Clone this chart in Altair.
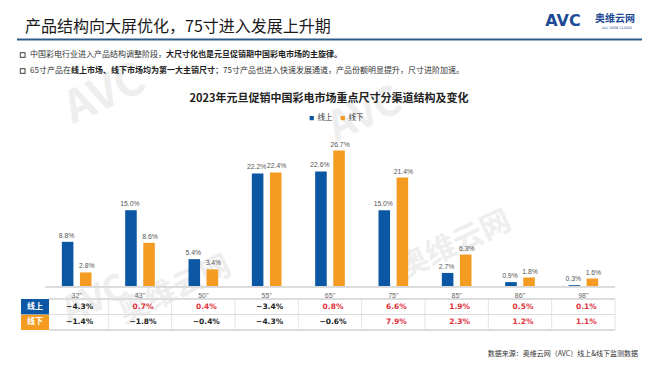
import altair as alt
import pandas as pd

# ---------------- data ----------------
sizes = ['32"', '43"', '50"', '55"', '65"', '75"', '85"', '86"', '98"']
channels = ["线上", "线下"]
online_share = [8.8, 15.0, 5.4, 22.2, 22.6, 15.0, 2.7, 0.9, 0.3]
offline_share = [2.8, 8.6, 3.4, 22.4, 26.7, 21.4, 6.3, 1.8, 1.6]
online_change = [-4.3, 0.7, 0.4, -3.4, 0.8, 6.6, 1.9, 0.5, 0.1]
offline_change = [-1.4, -1.8, -0.4, -4.3, -0.6, 7.9, 2.3, 1.2, 1.1]

page_title = "产品结构向大屏优化，75寸进入发展上升期"
bullet1 = ["中国彩电行业进入产品结构调整阶段，", "大尺寸化也是元旦促销期中国彩电市场的主旋律。"]
bullet2 = ["65寸产品在", "线上市场、线下市场均为第一大主销尺寸", "；75寸产品也进入快速发展通道，产品份额明显提升，尺寸进阶加速。"]
chart_title = "2023年元旦促销中国彩电市场重点尺寸分渠道结构及变化"
source_note = "数据来源：奥维云网（AVC）线上&线下监测数据"
logo_main = "AVC"
logo_cn = "奥维云网"
logo_en = "ALL VIEW CLOUD"
watermarks = ["AVC", "奥维云网", "AVC", "奥维云网", "AVC"]

BLUE = "#0b57a4"
ORANGE = "#f49b22"
RED = "#e0303a"
FONT = "Noto Sans CJK SC"
NUM_FONT = "Liberation Sans"

# ---------------- tables ----------------
bars = pd.DataFrame(
    {
        "size": sizes * 2,
        "channel": [channels[0]] * len(sizes) + [channels[1]] * len(sizes),
        "value": online_share + offline_share,
    }
)
chg_on = pd.DataFrame({"size": sizes, "chg": online_change})
chg_off = pd.DataFrame({"size": sizes, "chg": offline_change})
sizes_df = pd.DataFrame({"size": sizes})

x_scale = alt.Scale(domain=sizes, paddingInner=0, paddingOuter=0)
X = alt.X("size:N", sort=sizes, scale=x_scale, axis=None)
XOFF = alt.XOffset(
    "channel:N", sort=channels,
    scale=alt.Scale(domain=channels, paddingInner=0.36, paddingOuter=0.93),
)
Y = alt.Y("value:Q", scale=alt.Scale(domain=[0, 30], range=[278.7, 125.7]), axis=None)


def text_layer(txt, x, y, size, **kw):
    return alt.Chart(pd.DataFrame({"t": [txt]})).mark_text(
        fontSize=size, font=kw.pop("font", FONT), **kw
    ).encode(x=alt.value(x), y=alt.value(y), text="t:N")


# watermarks (faint)
wm_pos = [(105, 95, 44), (175, 290, 30), (365, 115, 40), (455, 245, 30), (95, 300, 36)]
wm_layers = []
for (px, py, fs), w in zip(wm_pos, watermarks):
    wm_layers.append(
        text_layer(w, px - 45, py - 8, fs, fontWeight="bold", color="#eeeeee",
                   angle=335, align="center", baseline="middle")
    )

# bars
bar_layer = alt.Chart(bars).mark_bar().encode(
    x=X,
    xOffset=XOFF,
    y=Y,
    color=alt.Color(
        "channel:N",
        scale=alt.Scale(domain=channels, range=[BLUE, ORANGE]),
        legend=alt.Legend(
            title=None, orient="none", legendX=263, legendY=106,
            direction="horizontal", symbolType="square", symbolSize=18,
            symbolStrokeWidth=0, labelFontSize=7.5, labelFont=FONT,
            labelColor="#333333", labelOffset=2, columnPadding=6, padding=0,
        ),
    ),
)


def bar_label_layer(ch, dx):
    return alt.Chart(bars).transform_filter(
        alt.datum.channel == ch
    ).transform_calculate(
        lab="format(datum.value, '.1f') + '%'"
    ).mark_text(
        fontSize=6.8, font=NUM_FONT, color="#555555", baseline="bottom", dy=-3, dx=dx
    ).encode(x=X, xOffset=XOFF, y=Y, text="lab:N")


lab_on = bar_label_layer(channels[0], -1)
lab_off = bar_label_layer(channels[1], 1)

baseline = alt.Chart(sizes_df).mark_rule(color="#d9d9d9", strokeWidth=1).encode(
    x=alt.value(0), x2=alt.value(570), y=alt.value(278.7)
)

x_labels = alt.Chart(sizes_df).mark_text(
    fontSize=7, font=NUM_FONT, color="#666666", baseline="middle"
).encode(x=X, y=alt.value(287.5), text="size:N")

# table grid
grid_h = []
for yy in [291, 306.5, 322]:
    grid_h.append(
        alt.Chart(sizes_df).mark_rule(color="#dcdcdc", strokeWidth=0.8).encode(
            x=alt.value(4), x2=alt.value(570), y=alt.value(yy)
        )
    )
grid_v = alt.Chart(sizes_df).mark_rule(color="#dcdcdc", strokeWidth=0.8).encode(
    x=alt.X("size:N", sort=sizes, scale=x_scale, axis=None, bandPosition=0),
    y=alt.value(291), y2=alt.value(322),
)
grid_v_end = alt.Chart(sizes_df).transform_filter(
    alt.datum.size == sizes[-1]
).mark_rule(color="#dcdcdc", strokeWidth=0.8).encode(
    x=alt.X("size:N", sort=sizes, scale=x_scale, axis=None, bandPosition=1),
    y=alt.value(291), y2=alt.value(322),
)

hdr_on = alt.Chart(sizes_df.head(1)).mark_rect(color=BLUE).encode(
    x=alt.value(-24), x2=alt.value(4), y=alt.value(291), y2=alt.value(306.5)
)
hdr_off = alt.Chart(sizes_df.head(1)).mark_rect(color=ORANGE).encode(
    x=alt.value(-24), x2=alt.value(4), y=alt.value(306.8), y2=alt.value(322)
)
hdr_on_t = text_layer(channels[0], -10, 298.8, 8, color="white", fontWeight="bold",
                      align="center", baseline="middle")
hdr_off_t = text_layer(channels[1], -10, 314.4, 8, color="white", fontWeight="bold",
                       align="center", baseline="middle")


def change_row(df, yy):
    return alt.Chart(df).transform_calculate(
        lab="format(datum.chg, '.1f') + '%'"
    ).mark_text(fontSize=7.5, font="DejaVu Sans", fontWeight="bold", dx=3,
                baseline="middle").encode(
        x=X,
        y=alt.value(yy),
        text="lab:N",
        color=alt.condition(alt.datum.chg > 0, alt.value(RED), alt.value("#222222")),
    )


row_on = change_row(chg_on, 298.8)
row_off = change_row(chg_off, 314.4)

# header texts
t_title = text_layer(page_title, -20, 18.5, 16, color="#1a1a1a", align="left", baseline="middle")
t_logo = text_layer(logo_main, 518, 12.5, 16, font="DejaVu Sans", fontWeight="bold",
                    color="#1d4a95", align="center", baseline="middle")
t_logo_cn = text_layer(logo_cn, 570, 11, 10, fontWeight="bold", color="#1d4a95",
                       align="center", baseline="middle")
t_logo_en = text_layer(logo_en, 572, 20, 3.5, font="DejaVu Sans", color="#1d4a95",
                       align="center", baseline="middle")
top_line = alt.Chart(sizes_df.head(1)).mark_rule(color="#2e5c8a", strokeWidth=2).encode(
    x=alt.value(-28), x2=alt.value(597), y=alt.value(31.5)
)

bullet_layers = []
for yy in [47, 63]:
    bullet_layers.append(
        alt.Chart(sizes_df.head(1)).mark_square(
            filled=False, color="#222222", strokeWidth=1.2, size=22
        ).encode(x=alt.value(-22.3), y=alt.value(yy))
    )
# line 1: normal + bold (CJK glyphs are 1em wide)
b1_split = -15 + 8 * len(bullet1[0])
bullet_layers.append(text_layer(bullet1[0], b1_split, 47, 8, color="#333333",
                                align="right", baseline="middle"))
bullet_layers.append(text_layer(bullet1[1], b1_split, 47, 8, color="#222222",
                                fontWeight="bold", align="left", baseline="middle"))
# line 2: normal + bold + normal
b2_split = -15 + 9 + 8 * 4
b2_split2 = b2_split + 8 * len(bullet2[1])
bullet_layers.append(text_layer(bullet2[0], b2_split, 63, 8, color="#333333",
                                align="right", baseline="middle"))
bullet_layers.append(text_layer(bullet2[1], b2_split, 63, 8, color="#222222",
                                fontWeight="bold", align="left", baseline="middle"))
bullet_layers.append(text_layer(bullet2[2], b2_split2, 63, 8, color="#333333",
                                align="left", baseline="middle"))

t_chart_title = text_layer(chart_title, 284, 91, 11, fontWeight="bold", color="#222222",
                           align="center", baseline="middle")
t_source = text_layer(source_note, 593, 346, 7, color="#333333", align="right",
                      baseline="middle")

chart = alt.layer(
    *wm_layers,
    bar_layer,
    lab_on,
    lab_off,
    baseline,
    x_labels,
    *grid_h,
    grid_v,
    grid_v_end,
    hdr_on,
    hdr_off,
    hdr_on_t,
    hdr_off_t,
    row_on,
    row_off,
    t_title,
    t_logo,
    t_logo_cn,
    t_logo_en,
    top_line,
    *bullet_layers,
    t_chart_title,
    t_source,
).properties(
    width=570,
    height=356,
    padding={"left": 37, "top": 0, "right": 37, "bottom": 0},
    autosize=alt.AutoSizeParams(type="none"),
    background="white",
).configure_view(stroke=None)

chart.save("out.html", embed_options={"renderer": "svg", "actions": False})
